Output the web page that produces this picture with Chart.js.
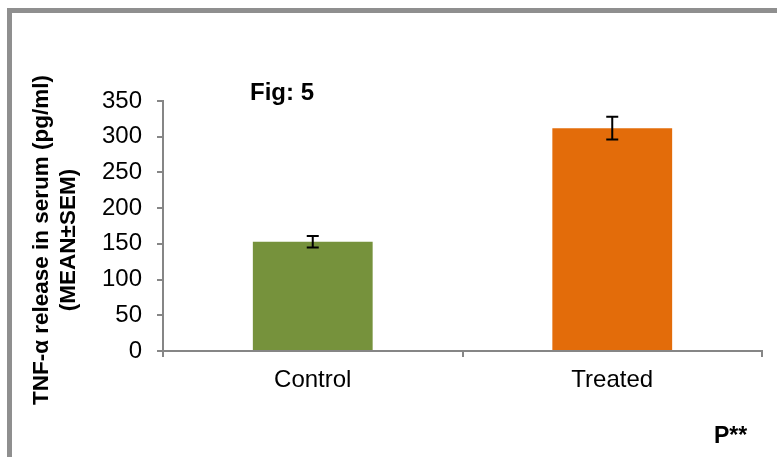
<!DOCTYPE html>
<html>
<head>
<meta charset="utf-8">
<script src="https://cdn.jsdelivr.net/npm/chart.js@4.4.1/dist/chart.umd.min.js"></script>
<style>
  html, body { margin: 0; padding: 0; background: #ffffff; }
  #wrap { position: relative; width: 777px; height: 457px; }
</style>
</head>
<body>
<div id="wrap"><canvas id="c" width="777" height="457"></canvas></div>
<script>
// ---- data ----
const categories = ['Control', 'Treated'];
const meanValues = [153, 312];
const semValues = [8, 16];
const barColors = ['#76923C', '#E36C0A'];
const yMin = 0;
const yMax = 350;
const yStep = 50;
const chartTitle = 'Fig: 5';
const yTitleLines = ['TNF-\u03B1 release in serum (pg/ml)', '(MEAN\u00B1SEM)'];
const noteText = 'P**';

const FONT = "'Liberation Sans', Arial, sans-serif";
const AXIS_GRAY = '#868686';

const framePlugin = {
  id: 'frame',
  beforeDraw(chart) {
    const ctx = chart.ctx;
    ctx.save();
    ctx.fillStyle = '#ffffff';
    ctx.fillRect(0, 0, chart.width, chart.height);
    ctx.fillStyle = '#8f8f8f';
    ctx.fillRect(7, 8, chart.width, 5);
    ctx.fillRect(7, 8, 5, chart.height);
    ctx.restore();
  },
  afterDraw(chart) {
    const ctx = chart.ctx;
    ctx.save();
    ctx.fillStyle = '#000000';
    ctx.font = 'bold 24px ' + FONT;
    ctx.textAlign = 'center';
    ctx.textBaseline = 'alphabetic';
    ctx.fillText(chartTitle, 282, 100);
    ctx.font = 'bold 23px ' + FONT;
    ctx.textAlign = 'left';
    ctx.fillText(noteText, 714, 443);
    // rotated value-axis title (two lines), centred a little below the plot centre as in the reference
    ctx.font = 'bold 22.5px ' + FONT;
    ctx.textAlign = 'center';
    ctx.textBaseline = 'middle';
    const cy = 240;
    const xs = [42, 69];
    yTitleLines.forEach((line, i) => {
      ctx.save();
      ctx.translate(xs[i], cy);
      ctx.rotate(-Math.PI / 2);
      ctx.fillText(line, 0, 0);
      ctx.restore();
    });
    ctx.restore();
  }
};

const errorBarPlugin = {
  id: 'errorBars',
  afterDatasetsDraw(chart) {
    const ctx = chart.ctx;
    const yScale = chart.scales.y;
    const meta = chart.getDatasetMeta(0);
    ctx.save();
    ctx.strokeStyle = '#000000';
    ctx.lineWidth = 2;
    meta.data.forEach((bar, i) => {
      const x = bar.x;
      const top = yScale.getPixelForValue(meanValues[i] + semValues[i]);
      const bot = yScale.getPixelForValue(meanValues[i] - semValues[i]);
      ctx.beginPath();
      ctx.moveTo(x, top); ctx.lineTo(x, bot);
      ctx.moveTo(x - 6, top); ctx.lineTo(x + 6, top);
      ctx.moveTo(x - 6, bot); ctx.lineTo(x + 6, bot);
      ctx.stroke();
    });
    ctx.restore();
  }
};

new Chart(document.getElementById('c'), {
  type: 'bar',
  data: {
    labels: categories,
    datasets: [{
      data: meanValues,
      backgroundColor: barColors,
      borderWidth: 0,
      barPercentage: 0.4,
      categoryPercentage: 1.0
    }]
  },
  options: {
    responsive: false,
    animation: false,
    devicePixelRatio: 1,
    layout: { padding: { left: 0, top: 101, right: 15, bottom: 0 } },
    plugins: {
      legend: { display: false },
      title: { display: false },
      tooltip: { enabled: false }
    },
    scales: {
      x: {
        grid: {
          display: true,
          drawOnChartArea: false,
          drawTicks: true,
          tickLength: 6,
          color: AXIS_GRAY,
          lineWidth: 2,
          offset: true
        },
        border: { display: true, color: AXIS_GRAY, width: 2 },
        ticks: {
          color: '#000000',
          font: { family: FONT, size: 24 },
          padding: 9,
          maxRotation: 0
        },
        afterFit(scale) { scale.height = 106; }
      },
      y: {
        min: yMin,
        max: yMax,
        grid: {
          display: true,
          drawOnChartArea: false,
          drawTicks: true,
          tickLength: 6,
          color: AXIS_GRAY,
          lineWidth: 2
        },
        border: { display: true, color: AXIS_GRAY, width: 2 },
        ticks: {
          stepSize: yStep,
          color: '#000000',
          font: { family: FONT, size: 24 },
          padding: 15
        },
        title: { display: false },
        afterFit(scale) { scale.width = 163; }
      }
    }
  },
  plugins: [framePlugin, errorBarPlugin]
});
</script>
</body>
</html>
